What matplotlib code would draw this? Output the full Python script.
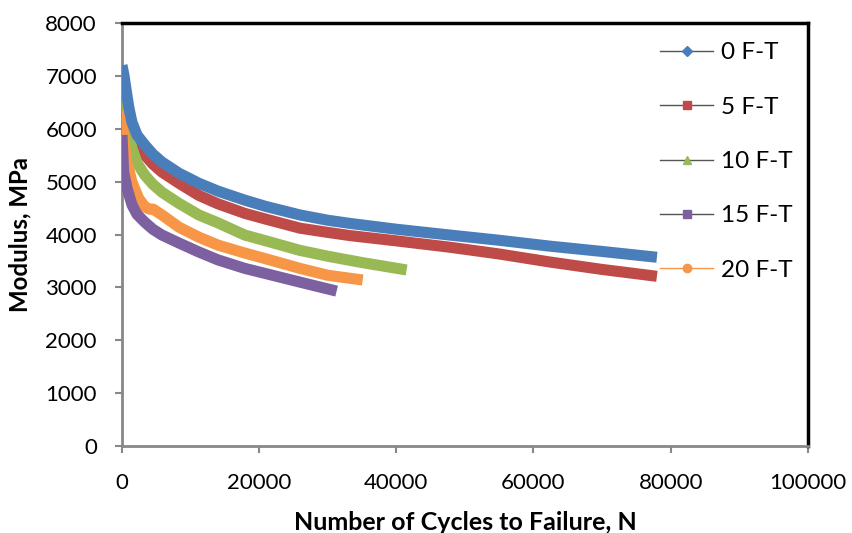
import matplotlib
matplotlib.use('Agg')
import matplotlib.pyplot as plt
from matplotlib.lines import Line2D

plt.rcParams['font.family'] = ['Lato', 'DejaVu Sans']

labels = ['0 F-T', '5 F-T', '10 F-T', '15 F-T', '20 F-T']
colors = ['#4A7EBB', '#BE4B48', '#98B954', '#7D60A0', '#F79646']
markers = ['D', 's', '^', 's', 'o']

# cycles / modulus
cyc_0 = [0, 300, 700, 1000, 1460, 2200, 3350, 4500, 5830, 8300, 11200, 14000,
         17900, 21000, 25950, 30000, 33240, 40000, 47800, 55100, 62400, 70000, 78000]
mod_0 = [7200, 7000, 6650, 6400, 6120, 5880, 5690, 5520, 5370, 5160, 4970, 4820,
         4650, 4530, 4370, 4270, 4210, 4100, 3990, 3890, 3780, 3680, 3570]

cyc_5 = [0, 300, 700, 1460, 2200, 3350, 4500, 5830, 8300, 11200, 14000, 17900,
         21000, 25950, 30000, 33240, 40000, 47800, 55100, 62400, 70000, 78000]
mod_5 = [6150, 6050, 5980, 5840, 5680, 5500, 5330, 5180, 4970, 4740, 4580, 4400,
         4290, 4120, 4040, 3980, 3880, 3760, 3630, 3480, 3340, 3210]

cyc_10 = [0, 300, 730, 1000, 1460, 2200, 3350, 4500, 5830, 8300, 11200, 14000,
          17900, 21000, 25950, 30000, 35000, 41500]
mod_10 = [6790, 6650, 6120, 5900, 5630, 5350, 5120, 4950, 4800, 4590, 4370, 4220,
          3990, 3880, 3700, 3590, 3470, 3330]

cyc_15 = [0, 240, 730, 1460, 2200, 3350, 4500, 5830, 8300, 11200, 14000, 17900,
          21000, 25950, 31300]
mod_15 = [5880, 5180, 4880, 4560, 4380, 4230, 4100, 3990, 3840, 3670, 3520, 3360,
          3260, 3100, 2930]

cyc_20 = [0, 240, 730, 1460, 2400, 3350, 4000, 4540, 5830, 8300, 11200, 14000,
          17900, 21000, 25950, 30000, 35100]
mod_20 = [6350, 5820, 5370, 4990, 4690, 4520, 4480, 4480, 4370, 4140, 3950, 3800,
          3650, 3540, 3360, 3230, 3140]

series = [(cyc_0, mod_0), (cyc_5, mod_5), (cyc_10, mod_10), (cyc_15, mod_15), (cyc_20, mod_20)]

fig = plt.figure(figsize=(8.53, 5.33), dpi=100)
ax = fig.add_axes([0.143, 0.163, 0.804, 0.794])

# draw back to front like the original (blue on top)
for i in [1, 2, 4, 3, 0]:
    x, y = series[i]
    ax.plot(x, y, color=colors[i], lw=8, solid_capstyle='butt',
            solid_joinstyle='round', zorder=3 + (i == 0))

ax.set_xlim(0, 100000)
ax.set_ylim(0, 8000)
ax.set_xticks(range(0, 100001, 20000))
ax.set_yticks(range(0, 8001, 1000))
ax.tick_params(axis='both', labelsize=16, colors='#888888', labelcolor='black',
               length=5, width=1.5, direction='out')
ax.tick_params(axis='x', pad=14)
ax.tick_params(axis='y', pad=13)
for side in ['left', 'bottom']:
    ax.spines[side].set_color('#888888')
    ax.spines[side].set_linewidth(2)
for side in ['top', 'right']:
    ax.spines[side].set_color('black')
    ax.spines[side].set_linewidth(2.5)

ax.set_xlabel('Number of Cycles to Failure, N', fontsize=18, fontweight='bold', labelpad=13)
ax.set_ylabel('Modulus, MPa', fontsize=17.3, fontweight='bold', labelpad=10)

handles = []
for i in range(5):
    lc = '#F79646' if i == 4 else '#555555'
    handles.append(Line2D([0], [0], color=lc, lw=1, marker=markers[i],
                          markersize=6 if markers[i] != 'D' else 5,
                          markerfacecolor=colors[i], markeredgecolor=colors[i]))
ax.legend(handles, labels, loc='upper left', bbox_to_anchor=(0.77, 0.977),
          frameon=False, fontsize=17.5, handlelength=2.2, handletextpad=0.3,
          labelspacing=1.37, borderaxespad=0)

fig.savefig('out.png', dpi=100)
